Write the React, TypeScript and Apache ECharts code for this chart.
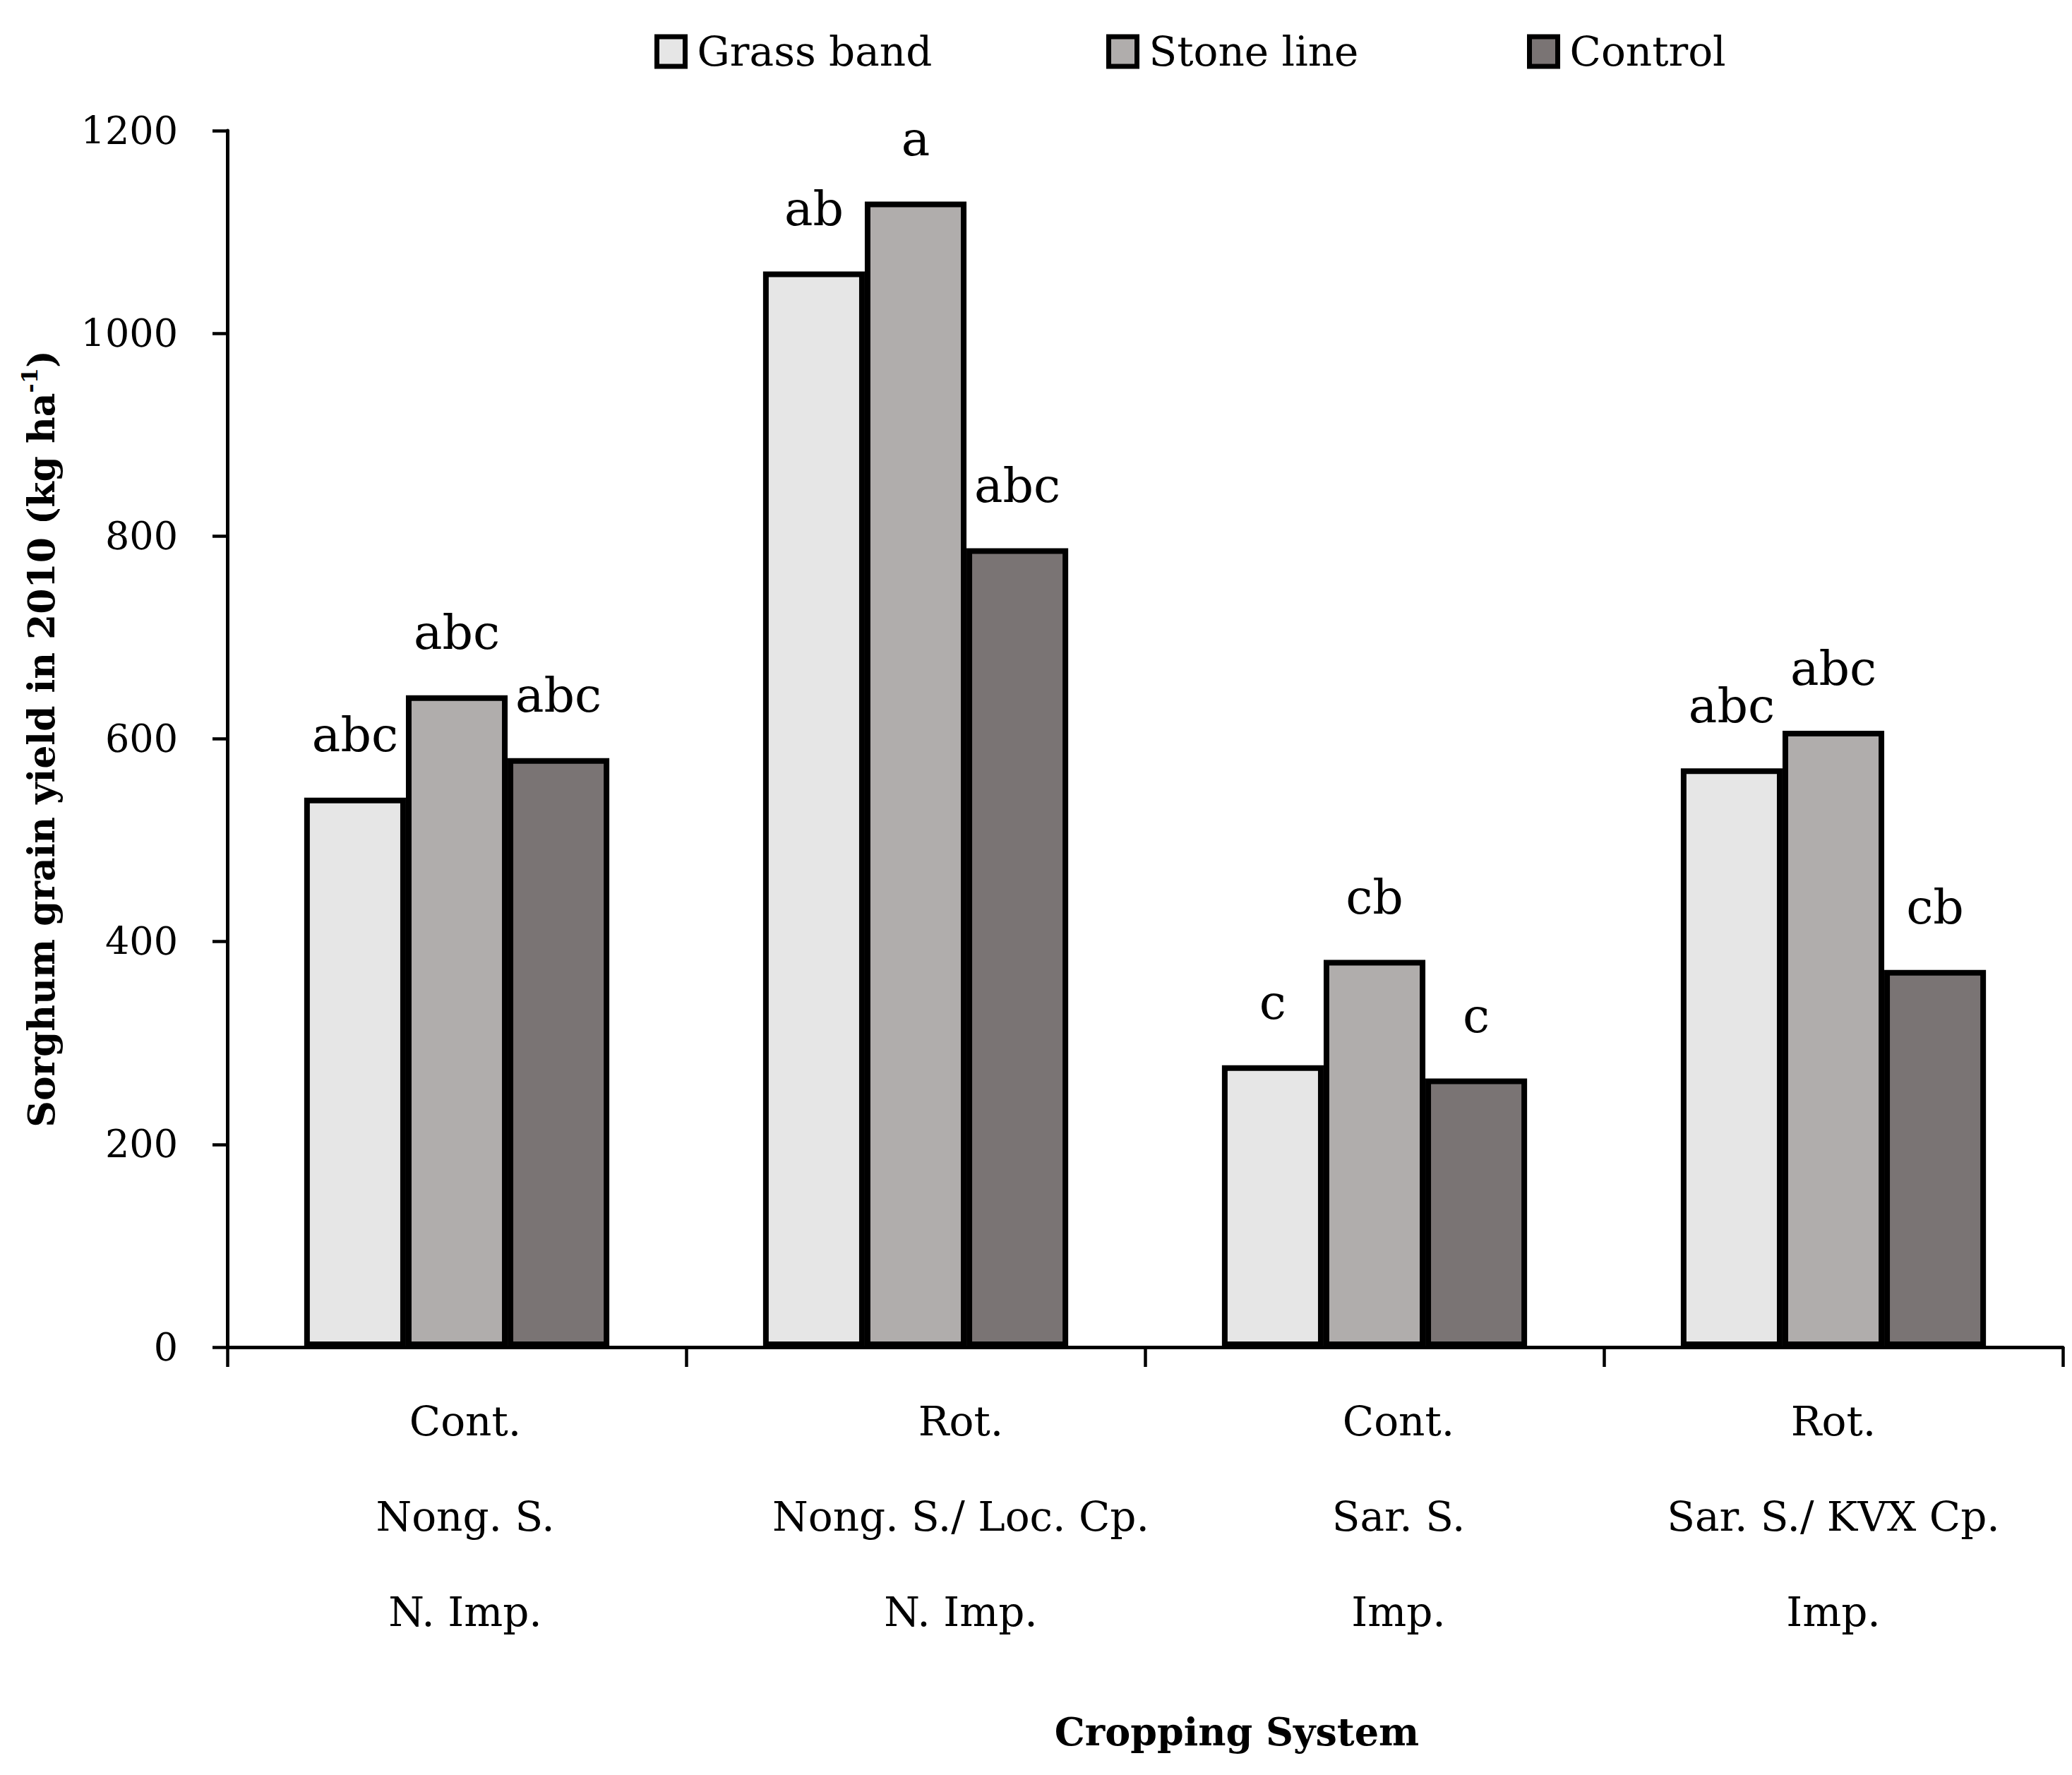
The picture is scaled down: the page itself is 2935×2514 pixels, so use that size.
import React, { useEffect, useRef } from "react";
import * as echarts from "echarts";

// ---- data ----
const cropSystem = ["Cont.", "Rot.", "Cont.", "Rot."];
const cropSpecies = ["Nong. S.", "Nong. S./ Loc. Cp.", "Sar. S.", "Sar. S./ KVX Cp."];
const improvement = ["N. Imp.", "N. Imp.", "Imp.", "Imp."];
const seriesNames = ["Grass band", "Stone line", "Control"];
const grassBand = [542, 1061, 278, 571];
const stoneLine = [643, 1130, 382, 608];
const control = [581, 788, 265, 372];
const grassLetters = ["abc", "ab", "c", "abc"];
const stoneLetters = ["abc", "a", "cb", "abc"];
const controlLetters = ["abc", "abc", "c", "cb"];
const yMin = 0;
const yMax = 1200;
const yStep = 200;
const yAxisTitle = "Sorghum grain yield in 2010 (kg ha{sup|-1})";
const xAxisTitle = "Cropping System";

// ---- style ----
const FONT = "DejaVu Serif";
const colors = ["#e6e6e6", "#b0adac", "#7a7474"];
const legendLefts = [927, 1567, 2163];
const labelShiftPad = [24, 128, 68, 0];

export default function App() {
  const ref = useRef<HTMLDivElement>(null);
  useEffect(() => {
    if (!ref.current) return;
    const chart = echarts.init(ref.current, null, { renderer: "svg" });
    const categories = cropSystem.map((c, i) => `${c}\n${cropSpecies[i]}\n${improvement[i]}`);
    const values = [grassBand, stoneLine, control];
    const letters = [grassLetters, stoneLetters, controlLetters];
    const rich: any = {};
    labelShiftPad.forEach((p, i) => {
      rich["g" + i] = {
        fontSize: 58,
        fontFamily: FONT,
        color: "#000",
        lineHeight: 135,
        padding: [0, 0, 0, p],
      };
    });
    const option: any = {
      animation: false,
      backgroundColor: "#ffffff",
      textStyle: { fontFamily: FONT, color: "#000" },
      grid: { left: 322, right: 13, top: 185, bottom: 606, containLabel: false, outerBoundsMode: "none" },
      legend: seriesNames.map((n, i) => ({
        data: [n],
        left: legendLefts[i],
        top: 44,
        padding: 0,
        icon: "rect",
        itemWidth: 40,
        itemHeight: 42,
        selectedMode: false,
        itemStyle: { borderColor: "#000", borderWidth: 7 },
        textStyle: { fontSize: 58, fontFamily: FONT, color: "#000", padding: [0, 0, 0, 12] },
      })),
      xAxis: {
        type: "category",
        data: categories,
        axisLine: { show: true, lineStyle: { color: "#000", width: 5 } },
        axisTick: { show: true, interval: 0, length: 28, lineStyle: { color: "#000", width: 4.5 } },
        axisLabel: {
          interval: 0,
          margin: 37,
          fontSize: 58,
          lineHeight: 135,
          color: "#000",
          fontFamily: FONT,
          formatter: (v: string, idx: number) =>
            v
              .split("\n")
              .map((l) => `{g${idx}|${l}}`)
              .join("\n"),
          rich,
        },
        name: xAxisTitle,
        nameLocation: "middle",
        nameGap: 518,
        nameTextStyle: { fontSize: 54, fontWeight: "bold", color: "#000", fontFamily: FONT, padding: [0, 0, 0, 260] },
      },
      yAxis: {
        type: "value",
        min: yMin,
        max: yMax,
        interval: yStep,
        axisLine: { show: true, lineStyle: { color: "#000", width: 5 } },
        axisTick: { show: true, length: 21, lineStyle: { color: "#000", width: 4.5 } },
        splitLine: { show: false },
        axisLabel: { margin: 70, fontSize: 54, color: "#000", fontFamily: FONT, formatter: (v: number) => String(v) },
        name: yAxisTitle,
        nameLocation: "middle",
        nameGap: 232,
        nameTextStyle: {
          fontSize: 52,
          fontWeight: "bold",
          color: "#000",
          fontFamily: FONT,
          lineHeight: 64,
          rich: { sup: { fontSize: 32, fontWeight: "bold", fontFamily: FONT, color: "#000", verticalAlign: "top", lineHeight: 40 } },
        },
      },
      series: seriesNames.map((n, i) => ({
        name: n,
        type: "bar",
        data: values[i],
        barGap: "0%",
        barCategoryGap: "33.5%",
        itemStyle: { color: colors[i], borderColor: "#000", borderWidth: 8 },
        label: {
          show: true,
          position: "top",
          distance: 55,
          fontSize: 68,
          fontFamily: FONT,
          color: "#000",
          formatter: (p: any) => letters[i][p.dataIndex],
        },
      })),
    };
    chart.setOption(option);
    return () => chart.dispose();
  }, []);
  return <div ref={ref} style={{ position: "absolute", left: 0, top: 0, width: 2935, height: 2514 }} />;
}
